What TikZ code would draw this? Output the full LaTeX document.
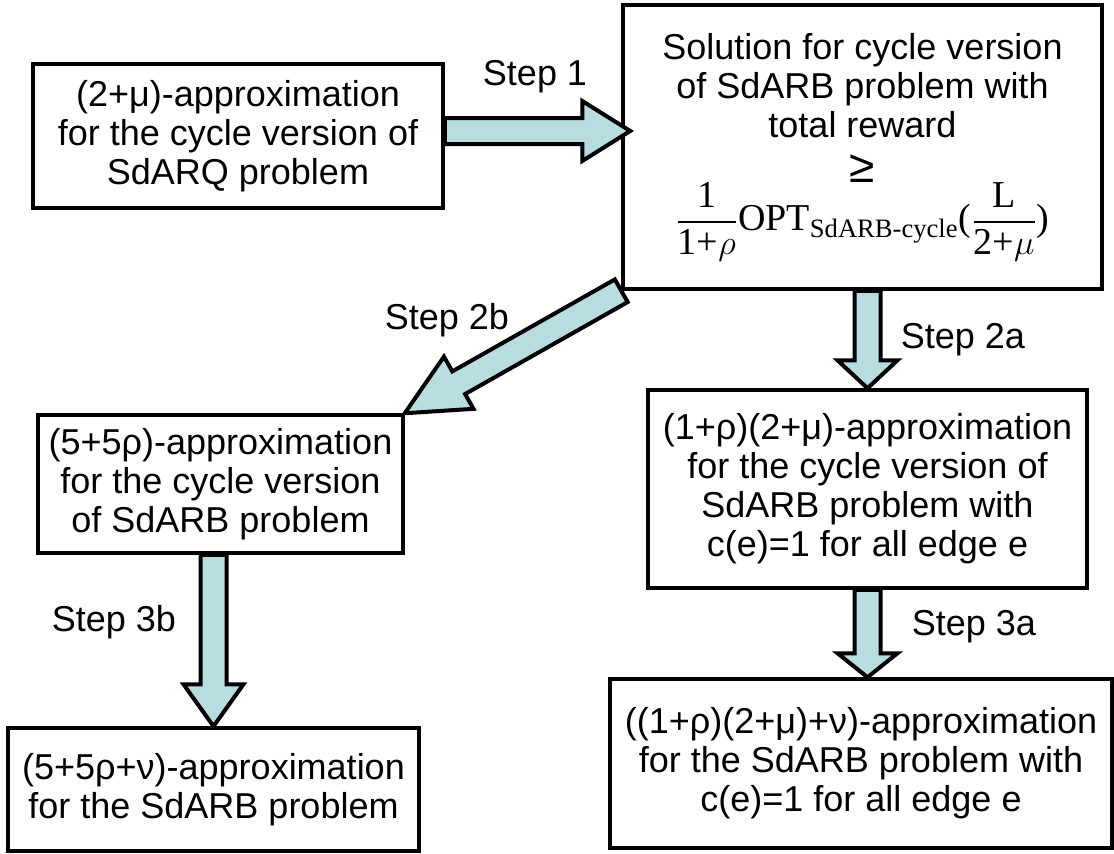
\documentclass[tikz,border=0pt]{standalone}
\usepackage{amsmath}
\usepackage[no-math]{fontspec}
\setmainfont{Liberation Sans}
\newfontfamily\timesfont{Liberation Serif}
\usetikzlibrary{calc}

\definecolor{arrowfill}{RGB}{183,221,224}

\tikzset{
	box/.style={draw, line width=1.75pt, align=center, inner sep=0pt,
		font=\fontsize{18}{19.5}\selectfont},
	steplabel/.style={font=\fontsize{18}{19.5}\selectfont},
	blockarrow/.style={fill=arrowfill, draw=black, line width=2pt, line join=miter},
}

% широкая стрелка: [длина головки]{откуда}{куда}
\newcommand{\blockarrow}[3][20pt]{%
	\coordinate (hb) at ($(#3)!#1!(#2)$);
	\filldraw[blockarrow] ($(#2)!\SW!90:(#3)$) -- ($(hb)!\SW!90:(#3)$)
		-- ($(hb)!\HW!90:(#3)$) -- (#3) -- ($(hb)!\HW!-90:(#3)$)
		-- ($(hb)!\SW!-90:(#3)$) -- ($(#2)!\SW!-90:(#3)$) -- cycle;
}

\begin{document}
\begin{tikzpicture}[x=0.5pt, y=-0.5pt]
	% параметры
	\def\SW{6.5pt}  % полуширина стрелки
	\def\HW{15pt}   % полуширина головки

	\useasboundingbox (0,0) rectangle (1114,853);

	% блоки
	\node[box, minimum width=205pt, minimum height=72pt] (A) at (238,136)
		{(2+μ)-approximation\\ for the cycle version of\\ SdARQ problem};
	\node[box, minimum width=239.5pt, minimum height=142pt] (B) at (862.5,147)
		{Solution for cycle version\\ of SdARB problem with\\ total reward\\[3pt] {\fontsize{23}{20}\selectfont ≥}\\[-1pt]
		{\fontsize{19}{22}\selectfont$\dfrac{\text{\timesfont 1}}{\text{\timesfont 1+}\rho}\text{\timesfont OPT}_{\text{\timesfont SdARB-cycle}}\text{\timesfont (}\dfrac{\text{\timesfont L}}{\text{\timesfont 2+}\mu}\text{\timesfont )}$}};
	\node[box, minimum width=182.5pt, minimum height=69pt] (C) at (220.5,484)
		{(5+5ρ)-approximation\\ for the cycle version\\ of SdARB problem};
	\node[box, minimum width=219.5pt, minimum height=99pt] (D) at (867.5,489)
		{(1+ρ)(2+μ)-approximation\\ for the cycle version of\\ SdARB problem with\\ c(e)=1 for all edge e};
	\node[box, minimum width=205.5pt, minimum height=61.5pt] (E) at (213.5,789.5)
		{(5+5ρ+ν)-approximation\\ for the SdARB problem};
	\node[box, minimum width=251pt, minimum height=84.5pt] (F) at (861,763.5)
		{((1+ρ)(2+μ)+ν)-approximation\\ for the SdARB problem with\\ c(e)=1 for all edge e};

	% концы стрелок
	\coordinate (s1) at ([yshift=2.5pt]A.east);
	\coordinate (t1) at ([xshift=4.5pt]B.west |- s1);
	\coordinate (s2a) at (B.south -| D.north);
	\coordinate (t3a) at (D.south |- F.north);
	\coordinate (s3b) at (E.north |- C.south);

	% стрелки
	\blockarrow[24pt]{s1}{t1}
	\blockarrow[31pt]{B.south west}{C.north east}
	\blockarrow[14pt]{s2a}{D.north}
	\blockarrow[12pt]{D.south}{t3a}
	\blockarrow[21pt]{s3b}{E.north}

	% подписи
	\node[steplabel] (l1) at (535,77) {Step 1};
	\node[steplabel] (l2b) at (447,320) {Step 2b};
	\node[steplabel] (l2a) at (963,340) {Step 2a};
	\node[steplabel] (l3a) at (974,627) {Step 3a};
	\node[steplabel] (l3b) at (114,622) {Step 3b};
\end{tikzpicture}
\end{document}
